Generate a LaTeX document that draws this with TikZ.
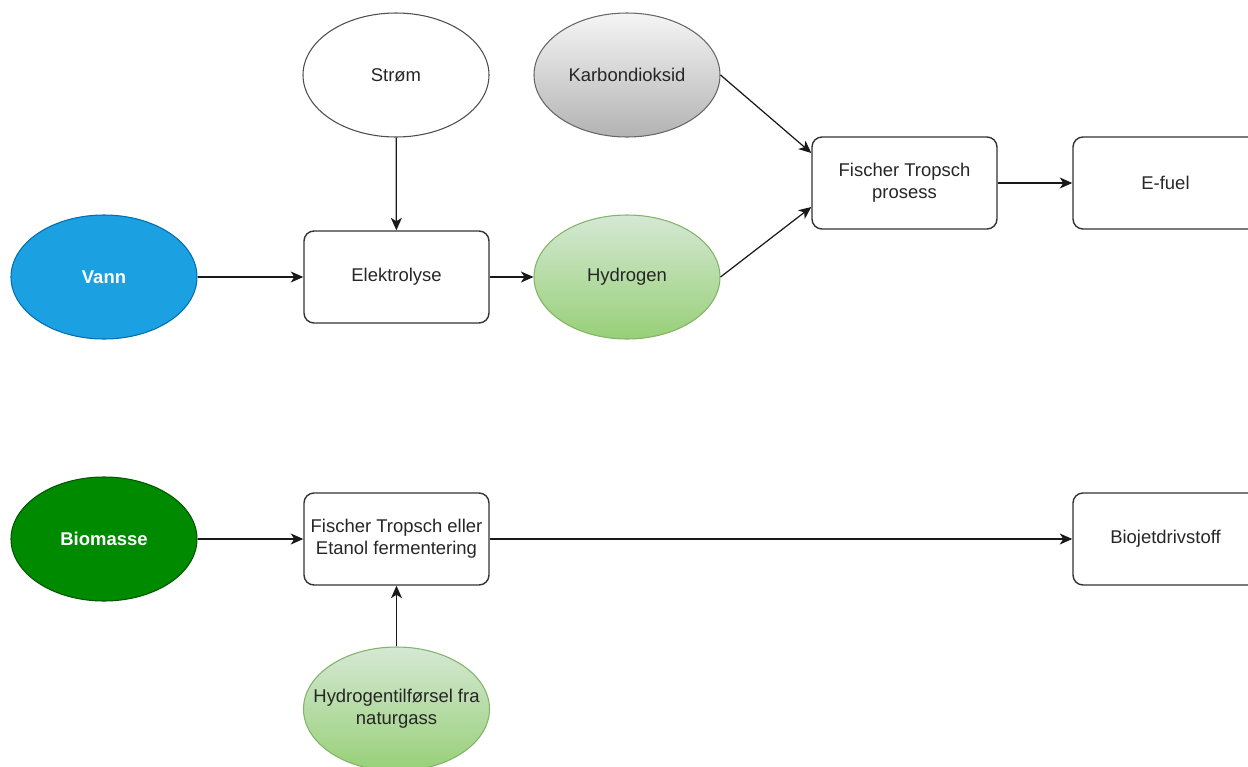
\documentclass[tikz,border=0pt]{standalone}
\usepackage{fontspec}
\setmainfont{Liberation Sans}
\usetikzlibrary{arrows.meta,shapes.geometric}
\definecolor{vannblue}{HTML}{1BA1E2}
\definecolor{vannedge}{HTML}{006EAF}
\definecolor{biogreen}{HTML}{008A00}
\definecolor{bioedge}{HTML}{005700}
\definecolor{gasedge}{HTML}{82B366}
\definecolor{gastop}{HTML}{D5E8D4}
\definecolor{gasbot}{HTML}{97D077}
\definecolor{co2top}{HTML}{F5F5F5}
\definecolor{co2bot}{HTML}{B3B3B3}

\begin{document}
\begin{tikzpicture}[x=0.2mm,y=-0.2mm,font=\fontsize{10.5}{12.5}\selectfont,>={Stealth[length=2.5mm,width=2.2mm,inset=0.7mm]},
 procbox/.style={draw=black!80,line width=0.8pt,rounded corners=2mm,minimum width=37mm,minimum height=18.4mm,align=center,text=black!85},
 blob/.style={ellipse,draw=black!70,line width=0.6pt,minimum width=37.2mm,minimum height=24.8mm,inner sep=0pt,align=center,text=black!85},
 gas/.style={blob,draw=gasedge,top color=gastop,bottom color=gasbot},
 flow/.style={->,line width=0.7pt,black!90}]
\useasboundingbox (0,0) rectangle (1248,767);
% upper chain: e-fuel
\node[blob] (strom) at (396,75) {Strøm};
\node[blob,draw=black!60,top color=co2top,bottom color=co2bot] (co2) at (627,75) {Karbondioksid};
\node[blob,draw=vannedge,fill=vannblue,text=white,font=\fontsize{10.5}{12.5}\selectfont\bfseries] (vann) at (104,277) {Vann};
\node[procbox] (elektro) at (396.5,277) {Elektrolyse};
\node[gas] (hydro) at (627,277) {Hydrogen};
\node[procbox] (ft) at (904.5,183) {Fischer Tropsch\\prosess};
\node[procbox] (efuel) at (1165.5,183) {E-fuel};
\foreach \a/\b in {vann/elektro,elektro/hydro,ft/efuel}{\draw[flow] (\a)--(\b);}
\draw[flow] (strom)--(elektro);
\draw[flow] (co2.east)--([yshift=6mm]ft.west);
\draw[flow] (hydro.east)--([yshift=-4.8mm]ft.west);
% lower chain: biojet
\node[blob,draw=bioedge,fill=biogreen,text=white,font=\fontsize{10.5}{12.5}\selectfont\bfseries] (bio) at (104,539) {Biomasse};
\node[procbox] (ftet) at (396.5,539) {Fischer Tropsch eller\\Etanol fermentering};
\node[procbox] (biojet) at (1165.5,539) {Biojetdrivstoff};
\node[gas,inner xsep=-4mm] (h2gas) at (396.5,709) {Hydrogentilførsel fra\\naturgass};
\foreach \a/\b in {bio/ftet,ftet/biojet,h2gas/ftet}{\draw[flow] (\a)--(\b);}
\end{tikzpicture}
\end{document}
